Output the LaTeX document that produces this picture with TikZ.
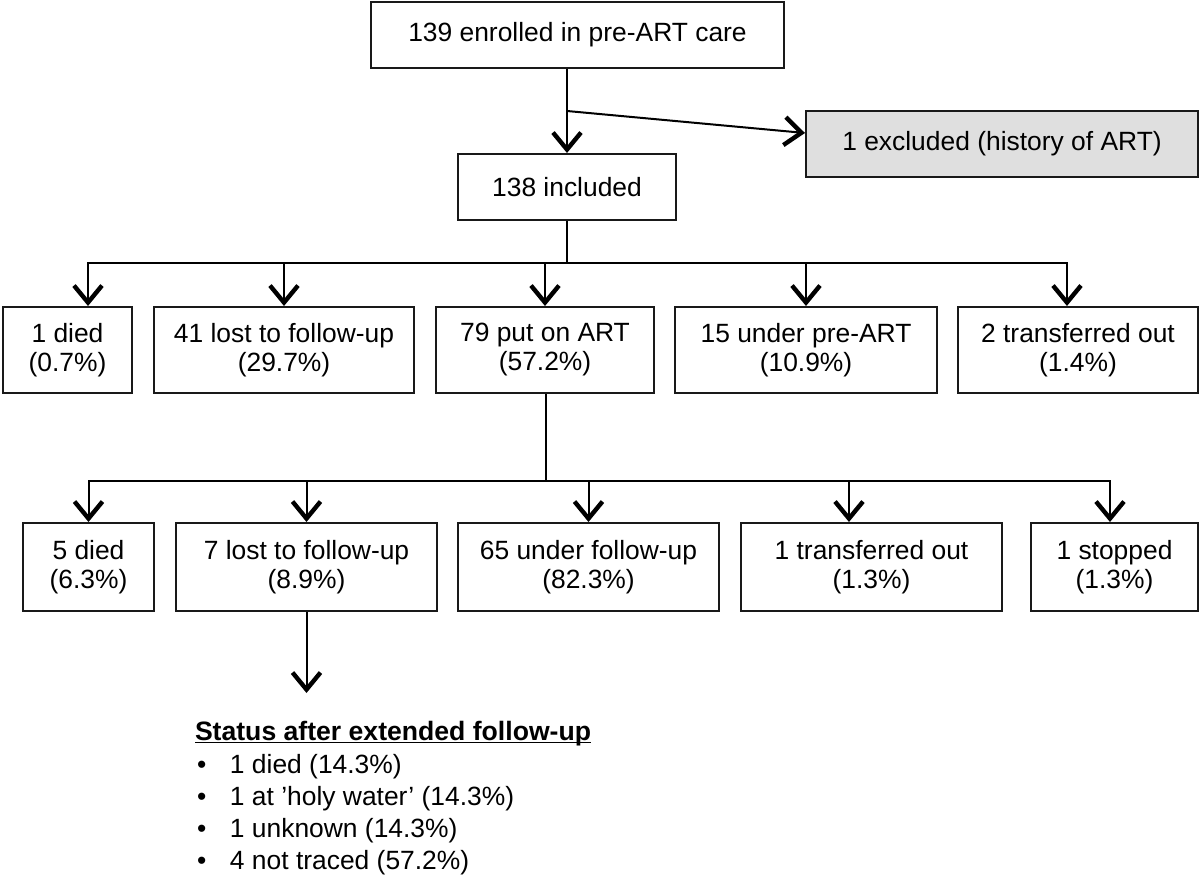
\documentclass[tikz,border=0pt]{standalone}
\usepackage{fontspec}
\setmainfont{Liberation Sans}
\usetikzlibrary{arrows.meta}

\begin{document}
\begin{tikzpicture}[x=0.5pt,y=-0.5pt,>={Straight Barb[length=8.5pt,width=14pt,line width=2.2pt]},
  line width=1pt,
  flow box/.style={rectangle,draw=black!90,fill=white,line width=1pt,align=center,
    inner sep=0pt,font=\fontsize{13.2}{14.5}\selectfont},
  out box/.style={flow box,fill=gray!25},
  list text/.style={anchor=base west,inner sep=0pt,font=\fontsize{13.2}{15}\selectfont}]

  \useasboundingbox (0,0) rectangle (1200,877);

  % top of the chart
  \node[flow box,minimum width=206.5pt,minimum height=33pt] (enrol) at (577.5,35) {139 enrolled in pre-ART care};
  \node[flow box,minimum width=109pt,minimum height=33pt] (incl) at (567,187) {138 included};
  \node[out box,minimum width=196pt,minimum height=33pt] (excl) at (1002,144) {1 excluded (history of ART)};

  % outcomes of the included
  \node[flow box,minimum width=64.5pt,minimum height=43pt] (died) at (67.5,350) {1 died\\(0.7\%)};
  \node[flow box,minimum width=130pt,minimum height=43pt] (lost) at (284,350) {41 lost to follow-up\\(29.7\%)};
  \node[flow box,minimum width=109pt,minimum height=43pt] (art) at (545,350) {79 put on ART\\(57.2\%)};
  \node[flow box,minimum width=131pt,minimum height=43pt] (pre) at (806,350) {15 under pre-ART\\(10.9\%)};
  \node[flow box,minimum width=120pt,minimum height=43pt] (trans) at (1078,350) {2 transferred out\\(1.4\%)};

  % outcomes of those on ART
  \node[flow box,minimum width=65.5pt,minimum height=44pt] (artdied) at (88.5,567) {5 died\\(6.3\%)};
  \node[flow box,minimum width=130.5pt,minimum height=44pt] (artlost) at (306.5,567) {7 lost to follow-up\\(8.9\%)};
  \node[flow box,minimum width=130.5pt,minimum height=44pt] (artfu) at (588.5,567) {65 under follow-up\\(82.3\%)};
  \node[flow box,minimum width=130.5pt,minimum height=44pt] (arttrans) at (871.5,567) {1 transferred out\\(1.3\%)};
  \node[flow box,minimum width=83.5pt,minimum height=44pt] (artstop) at (1114.5,567) {1 stopped\\(1.3\%)};

  % extended follow-up of the lost
  \node[list text,font=\fontsize{13.3}{15}\selectfont\bfseries] (status) at (194,740) {\underline{\smash{Status after extended follow-up}}};
  \node[list text] (item1) at (196,773) {\makebox[16.5pt][l]{\textbullet}1 died (14.3\%)};
  \node[list text] (item2) at (196,805) {\makebox[16.5pt][l]{\textbullet}1 at ’holy water’ (14.3\%)};
  \node[list text] (item3) at (196,837) {\makebox[16.5pt][l]{\textbullet}1 unknown (14.3\%)};
  \node[list text] (item4) at (196,869) {\makebox[16.5pt][l]{\textbullet}4 not traced (57.2\%)};

  \coordinate (split) at (567,111);
  \coordinate (bus1) at (567,263);
  \coordinate (bus2) at (546,481);
  \coordinate (trace) at (306.5,693);

  \draw[->] (enrol.south -| incl) -- (incl.north);
  \draw[->] (split) -- ([yshift=5.5pt]excl.west);

  \draw[->] (incl.south) -- (bus1) -| ([xshift=10.25pt]died.north);
  \draw[->] (bus1) -| (lost.north);
  \draw[->] (bus1) -| (art.north);
  \draw[->] (bus1) -| (pre.north);
  \draw[->] (bus1) -| ([xshift=-5.5pt]trans.north);

  \draw[->] (art.south -| bus2) -- (bus2) -| (artdied.north);
  \draw[->] (bus2) -| (artlost.north);
  \draw[->] (bus2) -| (artfu.north);
  \draw[->] (bus2) -| ([xshift=-11.25pt]arttrans.north);
  \draw[->] (bus2) -| ([xshift=-2.25pt]artstop.north);

  \draw[->] (artlost.south) -- (trace);
\end{tikzpicture}
\end{document}
